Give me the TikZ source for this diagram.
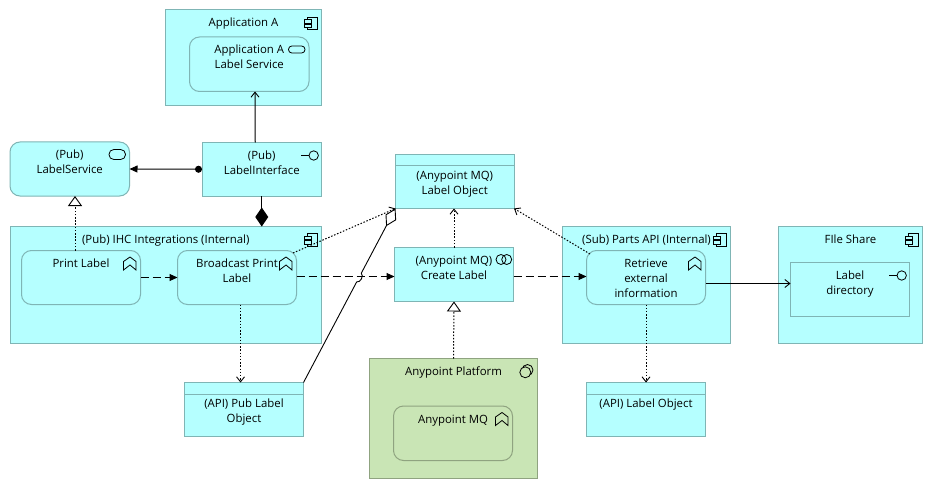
\documentclass[tikz,border=0pt]{standalone}
\usepackage{fontspec}
\setmainfont{Open Sans}
\usetikzlibrary{arrows.meta,calc}
\definecolor{cyanfill}{HTML}{B5FFFF}
\definecolor{cyanedge}{HTML}{7FB5B5}
\definecolor{greenfill}{HTML}{C9E5B5}
\definecolor{greenedge}{HTML}{8FA380}
\tikzset{
  abox/.style={draw=cyanedge,fill=cyanfill,line width=1pt,inner sep=0pt,outer sep=0pt,rectangle},
  rbox/.style={abox,rounded corners=10pt},
  gbox/.style={abox,draw=greenedge,fill=greenfill},
  grbox/.style={gbox,rounded corners=10pt},
  conn/.style={line width=1pt,black},
  dotline/.style={conn,dash pattern=on 1.5pt off 1.7pt},
  dashline/.style={conn,dash pattern=on 8pt off 4pt},
  opentip/.style={-{Straight Barb[length=5pt,width=8pt,line width=.9pt]}},
  filltip/.style={-{Triangle[length=8pt,width=7pt]}},
  hollowtip/.style={-{Triangle[open,fill=white,length=10pt,width=14pt,line width=.9pt]}},
  icon/.style={line width=.8pt,black},
  pics/compicon/.style={code={
    \draw[icon] (-14,7) rectangle (-4.5,19.5);
    \draw[icon,fill=cyanfill] (-17.5,9.5) rectangle (-10.5,13);
    \draw[icon,fill=cyanfill] (-17.5,14) rectangle (-10.5,17.5);
  }},
  pics/pillicon/.style={code={
    \draw[icon,rounded corners=#1*0.48pt] (-20.5,12.5-#1/2) rectangle (-4,12.5+#1/2);
  }},
  pics/lolliicon/.style={code={
    \draw[icon] (-20.5,13) -- (-12.5,13);
    \draw[icon] (-7.8,13) circle (4.7);
  }},
  pics/procicon/.style={code={
    \draw[icon,line join=miter] (-10.5,6.5) -- (-4.5,11) -- (-4.5,19.5) -- (-10.5,14.5) -- (-17,19.5) -- (-17,11) -- cycle;
  }},
  pics/collabicon/.style={code={
    \draw[icon] (-12.5,12) circle (5);
    \draw[icon] (-6.8,12) circle (5);
  }},
  pics/sysicon/.style={code={
    \draw[icon] (-10,11.5) circle (5.5);
    \draw[icon,fill=greenfill] (-12.2,13.8) circle (5.5);
  }},
}
% name, style, x1, y1, x2, y2, text; optional: height of first line
\newcommand\bx[8][17pt]{%
  \node[#3,minimum width={#6-#4},minimum height={#7-#5}] (#2) at ({(#4+#6)/2},{(#5+#7)/2})
    {\parbox[c][\dimexpr#7pt-#5pt\relax][t]{\dimexpr#6pt-#4pt\relax}{\fontsize{11.4}{15}\selectfont\centering\rule{0pt}{#1}#8\par}};%
}
\begin{document}
\begin{tikzpicture}[x=1pt,y=-1pt]
\useasboundingbox (0,0) rectangle (933,489);
\fill[white] (0,0) rectangle (933,489);

\bx{appa}{abox}{165.5}{10}{321.5}{106}{Application A}
\bx{appsvc}{rbox}{189.5}{37}{309}{91.5}{Application A\\Label Service}
\bx{pubsvc}{rbox}{10}{142}{129.5}{196}{(Pub)\\LabelService}
\bx{pubif}{abox}{202}{142.5}{321.5}{196}{(Pub)\\LabelInterface}
\bx{ihc}{abox}{10}{226.5}{321.5}{343.5}{(Pub) IHC Integrations (Internal)}
\bx{print}{rbox}{21.5}{250.5}{140.5}{304.5}{Print Label}
\bx{bcast}{rbox}{177.5}{250.5}{296.5}{304.5}{Broadcast Print\\Label}
\bx[25pt]{lobj}{abox}{395.5}{154.5}{514}{208.5}{(Anypoint MQ)\\Label Object}
\bx{create}{abox}{394.5}{247.5}{513.5}{301.5}{(Anypoint MQ)\\Create Label}
\bx{parts}{abox}{562.5}{226.5}{730.5}{343.5}{(Sub) Parts API (Internal)}
\bx{retr}{rbox}{586.5}{250.5}{705.5}{304.5}{Retrieve\\external\\information}
\bx{share}{abox}{778.5}{226.5}{922.5}{343.5}{FIle Share}
\bx{ldir}{abox}{790.5}{262.5}{909.5}{316.5}{Label\\directory}
\bx[25pt]{apipub}{abox}{184.5}{382.5}{303.5}{436.5}{(API) Pub Label\\Object}
\bx{plat}{gbox}{369.5}{358.5}{537.5}{478.5}{Anypoint Platform}
\bx{mq}{grbox}{393.5}{406}{512.5}{460.5}{Anypoint MQ}
\bx[25pt]{apilbl}{abox}{586.5}{382.5}{705.5}{436.5}{(API) Label Object}

% data object header lines
\foreach \n in {lobj,apipub,apilbl}
  \draw[cyanedge,line width=1pt] ([yshift=-11.5pt]\n.north west) -- ([yshift=-11.5pt]\n.north east);

% icons
\foreach \n in {appa,ihc,parts,share}
  \pic at (\n.north east) {compicon};
\pic at (appsvc.north east) {pillicon=7};
\pic at (pubsvc.north east) {pillicon=10};
\pic at (pubif.north east) {lolliicon};
\pic at (ldir.north east) {lolliicon};
\foreach \n in {print,bcast,retr,mq}
  \pic at (\n.north east) {procicon};
\pic at (create.north east) {collabicon};
\pic at (plat.north east) {sysicon};

% connectors
\draw[conn,opentip] ([xshift=-6.5pt]pubif.north) -- ([xshift=5.75pt]appsvc.south);
\draw[conn,{Circle[length=7pt]}-{Triangle[length=8pt,width=7pt]}] (pubif.west) -- (pubsvc.east);
\draw[conn,-{Diamond[length=19pt,width=13pt]}] (pubif.south) -- (ihc.north -| pubif.south);
\draw[dotline,hollowtip] (print.north -| 75,0) -- (pubsvc.south -| 75,0);
\draw[dashline,filltip] (print.east) -- (bcast.west);
\draw[dashline,filltip] ([yshift=1pt]bcast.east) -- ([yshift=-2pt]create.west);
\draw[dashline,filltip] ([yshift=-2pt]create.east) -- ([yshift=1pt]retr.west);
\draw[dotline,opentip] ([xshift=-3.5pt,yshift=-2.5pt]bcast.north east) -- (lobj.south west);
\draw[dotline,opentip] (create.north) -- (lobj.south -| create.north);
\draw[dotline,opentip] ([xshift=3.5pt,yshift=-3.5pt]retr.north west) -- (lobj.south east);
\draw[conn,opentip] ([yshift=-6pt]retr.east) -- ([yshift=6pt]ldir.west);
\draw[dotline,opentip] ([xshift=3.5pt]bcast.south) -- ([xshift=-3.5pt]apipub.north);
\draw[dotline,opentip] (retr.south) -- (apilbl.north);
\draw[dotline,hollowtip] (plat.north) -- (create.south);
\coordinate (hopa) at ($(apipub.north east)!0.578!(lobj.south west)$);
\coordinate (hopb) at ($(apipub.north east)!0.628!(lobj.south west)$);
\draw[conn,line width=.9pt,-{Diamond[open,fill=white,length=20pt,width=12pt,line width=.9pt]}]
  (apipub.north east) -- (hopa) to[bend right=75] (hopb) -- (lobj.south west);
\end{tikzpicture}
\end{document}
